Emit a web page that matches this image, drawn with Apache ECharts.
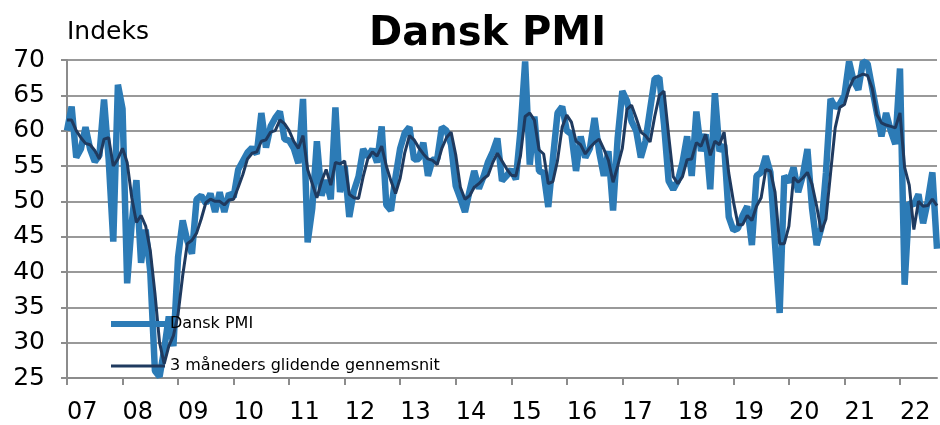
<!DOCTYPE html>
<html>
<head>
<meta charset="utf-8">
<script src="https://cdn.jsdelivr.net/npm/echarts@6.0.0/dist/echarts.min.js"></script>
<style>
  html, body { margin: 0; padding: 0; background: #fff; }
  #chart { width: 940px; height: 425px; }
</style>
</head>
<body>
<div id="chart"></div>
<script>
// year tick labels, one tick every 12 months starting January 2007
const years = ["07", "08", "09", "10", "11", "12", "13", "14", "15", "16", "17", "18", "19", "20", "21", "22"];

// Dansk PMI, monthly, Jan 2007 - Sep 2022
const pmi = [
  60, 63.4, 56.2, 57.4, 60.5, 57.4, 55.6, 56.5, 64.4, 56, 44.3, 66.5,
  63.1, 38.4, 47, 53, 41.3, 46, 40, 26, 25.2, 29, 33.7, 29.5,
  42.1, 47.3, 44.4, 42.6, 50.3, 50.8, 49.7, 51.1, 48.5, 51.3, 48.5, 51.1,
  50.6, 54.5, 55.7, 56.9, 57.6, 56.7, 62.5, 57.6, 60.6, 61.8, 62.7, 58.8,
  58.6, 57.5, 55.4, 64.5, 44.2, 49, 58.5, 50.8, 53, 50.3, 63.3, 51.3,
  55, 47.8, 51.5, 53.5, 57.4, 56.3, 57.4, 55.5, 60.6, 49.5, 48.7, 53.5,
  57.5, 59.7, 60.5, 55.9, 56, 58.3, 53.6, 55.9, 56, 60.5, 60, 58,
  52.2, 50.4, 48.5, 51.5, 54.3, 51.8, 53.5, 55.6, 57, 58.9, 52.9, 53.6,
  54.5, 53.1, 60, 69.8, 55.2, 62, 54.3, 54, 49.2, 56, 62.5, 63.4,
  60, 59.5, 54.3, 59.2, 56.2, 57.5, 61.8, 57, 53.6, 57.1, 48.7, 59,
  65.6, 64.2, 61.3, 60, 56.2, 58.5, 63, 67.4, 67.5, 61, 52.9, 51.7,
  52.9, 55.5, 59.2, 53.6, 62.7, 57.1, 59.5, 51.7, 65.3, 57.1, 58, 47.8,
  45.9, 46.2, 48, 49.3, 43.8, 53.6, 54.1, 56.4, 54.1, 44, 34.2, 53.6,
  52.7, 54.8, 51.3, 53.6, 57.4, 49, 43.8, 46.2, 54, 64.5, 63.3, 63.8,
  65, 69.8, 67, 65.8, 69.8, 69.5, 66, 62.5, 59.2, 62.5, 60, 58.1,
  68.8, 38.2, 49.8, 49.5, 51, 46.9, 50, 54.1, 43.3
];

// 3-month moving average as drawn
const avg3 = [
  61.5, 61.5, 60, 59, 58.2, 58, 57.2, 56, 58.8, 59, 55, 56,
  57.5, 55.5, 50.5, 47, 48, 46.5, 43, 37, 30, 27, 29.5, 31,
  34, 39.5, 44, 44.5, 45.5, 47.5, 49.8, 50.3, 50, 50, 49.5, 50.2,
  50.3, 52, 53.8, 56, 56.8, 57, 58.5, 58.7, 59.8, 60, 61.5, 61,
  60, 58.5, 57.5, 59.3, 54.5, 52.5, 50.5, 52.8, 54.5, 52.3, 55.5, 55.3,
  55.7, 51, 50.5, 50.4, 53.5, 56, 57, 56.4, 57.8, 55, 52.9, 51.1,
  53.3, 56.9, 59.3, 58.7, 57.6, 56.7, 56, 55.8, 55.2, 57.5, 59, 59.8,
  56.6, 52, 50.3, 50.8, 52, 52.5, 53.2, 53.7, 55.5, 56.8, 55.7, 54.6,
  53.7, 53.6, 56.5, 62, 62.5, 61.5, 57.3, 56.7, 52.5, 52.8, 55.8, 60.5,
  62.2, 61.2, 58.5, 58, 56.7, 57.6, 58.3, 58.8, 57.4, 55.8, 52.7, 55,
  57.5, 63, 63.6, 61.8, 59.8, 59.3, 58.4, 62, 65, 65.6, 59.4, 53.5,
  52.5, 53.5, 55.9, 56, 58.3, 57.8, 59.5, 56.5, 58.5, 58, 59.8, 54,
  50, 46.7, 46.7, 48, 47.3, 49.3, 50.5, 54.5, 54.3, 51.3, 44, 44,
  46.5, 53.4, 52.7, 53.3, 54.1, 52.4, 49.3, 45.7, 47.5, 54, 60.4, 63.3,
  63.7, 66, 67.4, 67.7, 68, 67.8, 66, 62.3, 61.1, 60.8, 60.6, 60.4,
  62.5, 54.8, 52.3, 46, 50, 49.3, 49.4, 50.3, 49.4
];

const seriesNames = ["Dansk PMI", "3 måneders glidende gennemsnit"];
const lightBlue = "#2c7bb6";
const navy = "#1f3a5f";

// one category per month, "yy-m"
const months = [];
years.forEach((y) => {
  for (let m = 1; m <= 12; m++) months.push(`${y}-${m}`);
});
const categories = months.slice(0, pmi.length);

const gridColor = "#999999";
const axisColor = "#8c8c8c";
const font = "DejaVu Sans";

const chart = echarts.init(document.getElementById("chart"));
chart.setOption({
  animation: false,
  textStyle: { fontFamily: font, color: "#000" },
  title: {
    text: "Dansk PMI",
    left: 364,
    top: 10,
    textStyle: { fontFamily: font, fontSize: 40, fontWeight: "bold", color: "#000" }
  },
  legend: {
    orient: "vertical",
    left: 108,
    top: 316,
    padding: 0,
    itemWidth: 54,
    itemHeight: 16,
    itemGap: 26,
    itemStyle: { opacity: 0 },
    textStyle: { fontFamily: font, fontSize: 16, color: "#000" },
    data: [
      { name: seriesNames[0], lineStyle: { color: lightBlue, width: 6 } },
      { name: seriesNames[1], lineStyle: { color: navy, width: 3 } }
    ]
  },
  grid: { left: 67, right: 3, top: 60, bottom: 44 },
  xAxis: {
    type: "category",
    data: categories,
    boundaryGap: false,
    axisLine: { lineStyle: { color: axisColor, width: 2 } },
    axisTick: { interval: 11, length: 7, lineStyle: { color: axisColor, width: 2 } },
    axisLabel: {
      interval: 11,
      formatter: (v) => v.split("-")[0],
      fontFamily: font,
      fontSize: 24,
      color: "#000",
      margin: 23,
      align: "left"
    },
    splitLine: { show: false }
  },
  yAxis: {
    type: "value",
    min: 25,
    max: 70,
    interval: 5,
    name: "Indeks",
    nameLocation: "end",
    nameGap: 15,
    nameTextStyle: { fontFamily: font, fontSize: 25, color: "#000", align: "left" },
    axisLine: { show: true, lineStyle: { color: axisColor, width: 2 } },
    axisTick: { show: true, length: 6, lineStyle: { color: axisColor, width: 2 } },
    axisLabel: { fontFamily: font, fontSize: 25, color: "#000", margin: 22 },
    splitLine: { lineStyle: { color: gridColor, width: 2 } }
  },
  series: [
    {
      name: seriesNames[0],
      type: "line",
      data: pmi,
      symbol: "none",
      lineStyle: { color: lightBlue, width: 6.5 },
      itemStyle: { color: lightBlue }
    },
    {
      name: seriesNames[1],
      type: "line",
      data: avg3,
      symbol: "none",
      lineStyle: { color: navy, width: 3 },
      itemStyle: { color: navy }
    }
  ]
});
</script>
</body>
</html>
